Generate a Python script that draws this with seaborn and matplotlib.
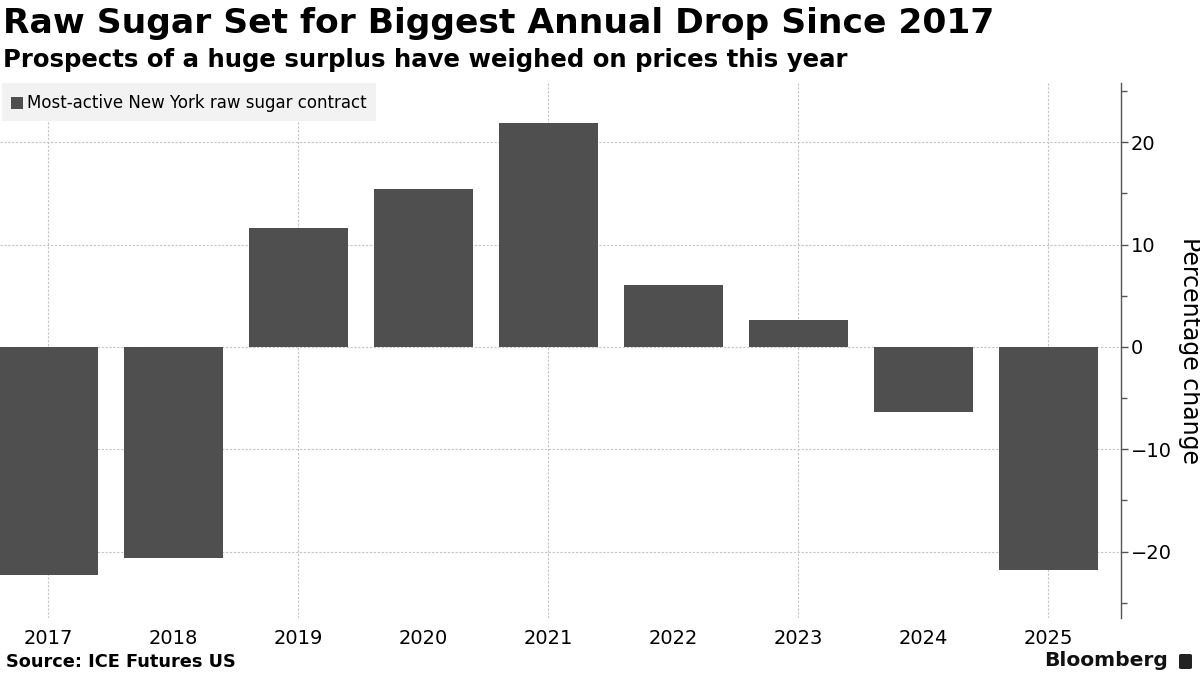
import numpy as np
import pandas as pd
import seaborn as sns
import matplotlib.pyplot as plt
from matplotlib.ticker import MultipleLocator
from matplotlib.patches import Rectangle, FancyBboxPatch

# --- data ---
years = ["2017", "2018", "2019", "2020", "2021", "2022", "2023", "2024", "2025"]
pct_change = [-22.3, -20.6, 11.6, 15.4, 21.9, 6.1, 2.6, -6.4, -21.8]
series_name = "Most-active New York raw sugar contract"

BAR = "#4f4f4f"
GRID = "#c4c4c4"

sns.set_theme(style="white")
plt.rcParams["font.family"] = ["DejaVu Sans"]
plt.rcParams["text.color"] = "black"

fig = plt.figure(figsize=(12, 6.75), dpi=100)
ax = fig.add_axes([0.0, 1 - 618 / 675, 1121 / 1200, (618 - 83) / 675])

df = pd.DataFrame({"year": years, "pct": pct_change})
sns.barplot(data=df, x="year", y="pct", color=BAR, width=0.79,
            saturation=1, linewidth=0, ax=ax, zorder=3)

ax.set_xlim(-0.385, 8.58)
ax.set_ylim(-26.5, 25.8)

# dotted grid
ax.yaxis.set_major_locator(MultipleLocator(10))
ax.yaxis.set_minor_locator(MultipleLocator(5))
for v in range(-20, 21, 10):
    ax.axhline(v, color=GRID, lw=0.8, ls=(0, (2, 1.5)), zorder=1)
for i in range(0, len(years), 2):
    ax.axvline(i, color=GRID, lw=0.8, ls=(0, (2, 1.5)), zorder=1)

# spines / ticks
for s in ["top", "left", "bottom"]:
    ax.spines[s].set_visible(False)
ax.spines["right"].set_color("#555555")
ax.spines["right"].set_linewidth(1.0)
ax.yaxis.tick_right()
ax.yaxis.set_label_position("right")
ax.tick_params(axis="y", which="both", direction="out", right=True, left=False,
               colors="#555555", labelcolor="black", labelsize=14, pad=2)
ax.tick_params(axis="y", which="major", length=5, width=1)
ax.tick_params(axis="y", which="minor", length=4, width=1)
ax.tick_params(axis="x", length=0, labelsize=14, pad=8, labelcolor="black")
ax.set_xlabel("")
ax.set_ylabel("Percentage change", rotation=270, fontsize=17, labelpad=22,
              color="black")

# legend box
fig.patches.append(Rectangle((2 / 1200, 1 - 121 / 675), 374 / 1200, 38 / 675,
                             transform=fig.transFigure, facecolor="#f2f2f2",
                             edgecolor="none", zorder=5))
fig.patches.append(Rectangle((11 / 1200, 1 - 109 / 675), 12 / 1200, 12 / 675,
                             transform=fig.transFigure, facecolor=BAR,
                             edgecolor="none", zorder=6))
fig.text(27 / 1200, 1 - 103 / 675, series_name, fontsize=12, va="center",
         ha="left", zorder=7)

# titles
fig.text(3 / 1200, 1 - 24 / 675, "Raw Sugar Set for Biggest Annual Drop Since 2017",
         fontsize=24.8, fontweight="bold", va="center", ha="left")
fig.text(3 / 1200, 1 - 60 / 675, "Prospects of a huge surplus have weighed on prices this year",
         fontsize=17.6, fontweight="bold", va="center", ha="left")

# footer
fig.text(6 / 1200, 1 - 662 / 675, "Source: ICE Futures US", fontsize=12.8,
         fontweight="bold", va="center", ha="left")
fig.text(1168 / 1200, 1 - 661 / 675, "Bloomberg", fontsize=14.6,
         fontweight="bold", va="center", ha="right", color="#111111")
fig.patches.append(FancyBboxPatch((1179 / 1200, 1 - 669 / 675), 13 / 1200, 15 / 675,
                                  boxstyle="round,pad=0,rounding_size=0.002",
                                  transform=fig.transFigure, facecolor="#222222",
                                  edgecolor="none"))

fig.savefig("out.png", dpi=100)
